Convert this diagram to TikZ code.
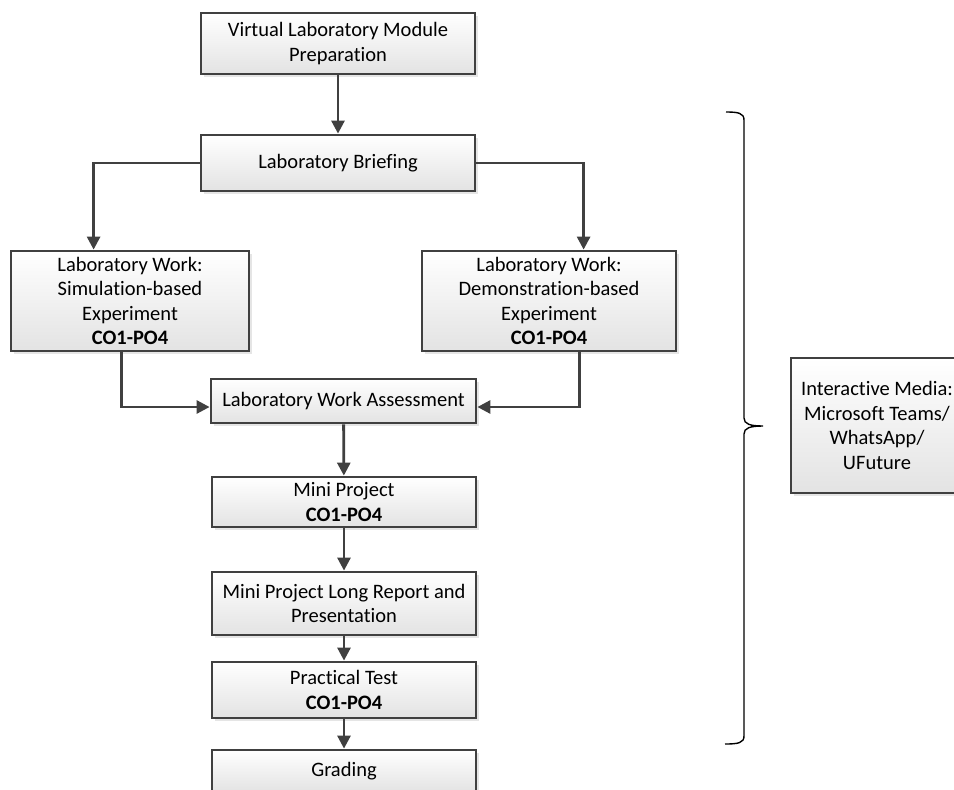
\documentclass[tikz,border=0pt]{standalone}
\usepackage{fontspec}
\setmainfont{Carlito}[Ligatures=NoCommon]
\usetikzlibrary{shadows,calc,arrows.meta}
\definecolor{edge}{HTML}{404040}
\tikzset{
  box/.style={draw=edge, line width=2.8pt, top color=white, bottom color=black!11,
    drop shadow={opacity=0.25, shadow xshift=2.5pt, shadow yshift=-2.5pt, fill=black!40},
    align=center, inner sep=0pt, font=\fontsize{20.5}{24.5}\selectfont},
  link/.style={draw=edge, line width=2.8pt, -{Triangle[length=13pt,width=13pt]}},
  bracepath/.style={draw=black, line width=1.4pt}
}
\begin{document}
\begin{tikzpicture}[x=1pt,y=-1pt]
\useasboundingbox (0,0) rectangle (954,790);
\clip (0,0) rectangle (954,790);
\node[box, minimum width=274pt, minimum height=61pt] (prep) at (338,43.5) {Virtual Laboratory Module\\Preparation};
\node[box, minimum width=274pt, minimum height=56pt] (brief) at (338,163) {Laboratory Briefing};
\node[box, minimum width=238pt, minimum height=100pt] (sim) at (130,301) {Laboratory Work:\\Simulation-based\\Experiment\\\textbf{CO1-PO4}};
\node[box, minimum width=254pt, minimum height=100pt] (demo) at (549,301) {Laboratory Work:\\Demonstration-based\\Experiment\\\textbf{CO1-PO4}};
\node[box, minimum width=265pt, minimum height=44pt] (lwa) at (343.5,401) {Laboratory Work Assessment};
\node[box, minimum width=264pt, minimum height=50pt] (mini) at (344,502) {Mini Project\\\textbf{CO1-PO4}};
\node[box, minimum width=264pt, minimum height=63pt] (report) at (344,603.5) {Mini Project Long Report and\\Presentation};
\node[box, minimum width=264pt, minimum height=56pt] (test) at (344,690) {Practical Test\\\textbf{CO1-PO4}};
\node[box, minimum width=264pt, minimum height=42pt] (grade) at (344,771) {Grading};
\node[box, minimum width=172pt, minimum height=135pt] (media) at (877,425.5) {Interactive Media:\\Microsoft Teams/\\WhatsApp/\\UFuture};

\draw[link] (prep) -- (brief);
\coordinate (simin) at ($(sim.north west)+(84,0)$);
\coordinate (demoin) at ($(demo.north west)+(163,0)$);
\draw[link] (brief.west) -| (simin);
\draw[link] (brief.east) -| (demoin);
\coordinate (simout) at ($(sim.south west)+(112,0)$);
\coordinate (demoout) at ($(demo.south west)+(159,0)$);
\coordinate (lwaL) at ($(lwa.west)+(0,6)$);
\coordinate (lwaR) at ($(lwa.east)+(0,6)$);
\draw[link] (simout) |- (lwaL);
\draw[link] (demoout) |- (lwaR);
\draw[link] (lwa) -- (mini);
\draw[link] (mini) -- (report);
\draw[link] (report) -- (test);
\draw[link] (test) -- (grade);

\draw[bracepath] (726,112) .. controls (738,112) and (744,113) .. (744,120)
  -- (744,418) .. controls (744,424) and (750,426) .. (763,426)
  .. controls (750,426) and (744,428) .. (744,434)
  -- (744,736) .. controls (744,743) and (738,744) .. (725,744);
\end{tikzpicture}
\end{document}
